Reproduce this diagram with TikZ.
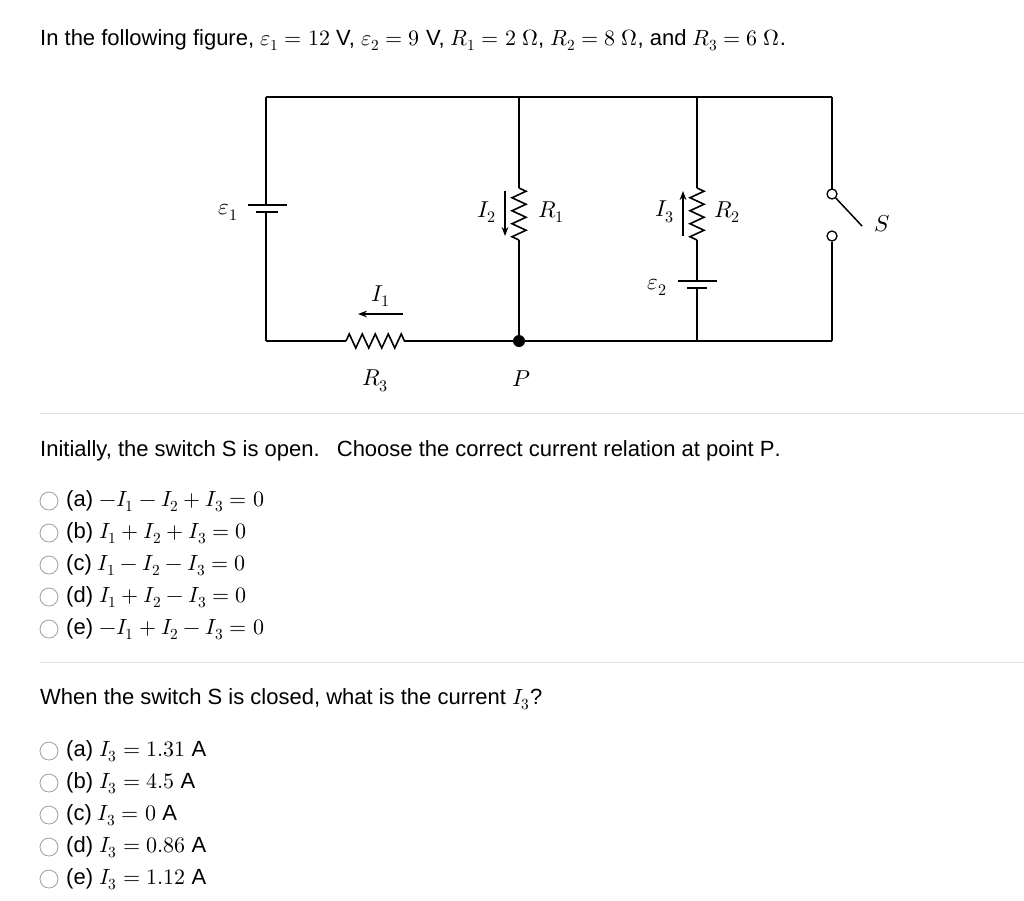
\documentclass[tikz,border=0pt]{standalone}
\usepackage{fontspec}
\setmainfont{Liberation Sans}
\usepackage{unicode-math}
\setmathfont{Latin Modern Math}
\usetikzlibrary{decorations.pathmorphing,arrows.meta}
\begin{document}
\begin{tikzpicture}[x=1pt,y=-1pt,
  wire/.style={line width=1.8pt},
  res/.style={line width=1.6pt,decorate,decoration={zigzag,segment length=13pt,amplitude=7pt}},
  txt/.style={font=\fontsize{22}{26}\selectfont,anchor=west,inner sep=0},
  lab/.style={font=\fontsize{23}{26}\selectfont,inner sep=1pt},
  radio/.style={circle,draw=gray!70,line width=0.9pt,minimum size=18pt,inner sep=0},
  sep/.style={draw=gray!25,line width=0.8pt}]
\useasboundingbox (0,0) rectangle (1024,900);
\node[txt] (title) at (40,40) {In the following figure, $\varepsilon_1=12$ V, $\varepsilon_2=9$ V, $R_1=2\ \Omega$, $R_2=8\ \Omega$, and $R_3=6\ \Omega$.};
\coordinate (tl) at (266,97); \coordinate (tr) at (832,97);
\coordinate (bl) at (266,341); \coordinate (br) at (832,341);
\coordinate (t1) at (519,97); \coordinate (t2) at (697,97);
\node[circle,fill,inner sep=0,minimum size=12pt] (P) at (519,341) {};
\coordinate (b2) at (697,341);
% left branch with battery
\draw[wire] (tl) -- (266,205) (266,212) -- (bl);
\draw[wire] (248,205) -- (287,205);
\draw[wire] (256,212) -- (278,212);
\node[lab] (e1) at (228,212) {$\varepsilon_1$};
% bottom wire with R3
\draw[wire] (bl) -- (346,341);
\draw[res] (346,341) -- (406,341);
\draw[wire] (406,341) -- (P) -- (br);
\draw[-{Stealth[length=9pt]},line width=1.3pt] (403,314) -- (358,314);
\node[lab] (i1) at (381,296) {$I_1$};
\node[lab] (r3) at (375,381) {$R_3$};
\node[lab] (p) at (521,379) {$P$};
\draw[wire] (tl) -- (tr);
% R1 branch
\draw[wire] (t1) -- (519,188);
\draw[res] (519,188) -- (519,240);
\draw[wire] (519,240) -- (P);
\draw[-{Stealth[length=9pt]},line width=1.3pt] (505,191) -- (505,236);
\node[lab] (i2) at (487,212) {$I_2$};
\node[lab] (r1) at (551,212) {$R_1$};
% R2 branch
\draw[wire] (t2) -- (697,188);
\draw[res] (697,188) -- (697,240);
\draw[wire] (697,240) -- (697,281);
\draw[wire] (678,281) -- (717,281);
\draw[wire] (687,288) -- (707,288);
\draw[wire] (697,288) -- (b2);
\draw[-{Stealth[length=9pt]},line width=1.3pt] (683,236) -- (683,191);
\node[lab] (i3) at (665,212) {$I_3$};
\node[lab] (r2) at (727,212) {$R_2$};
\node[lab] (e2) at (657,287) {$\varepsilon_2$};
% switch branch
\draw[wire] (tr) -- (832,189);
\node[circle,draw,line width=1.3pt,inner sep=0,minimum size=10pt,fill=white] (s1) at (832,194) {};
\node[circle,draw,line width=1.3pt,inner sep=0,minimum size=10pt,fill=white] (s2) at (832,236) {};
\draw[wire] (s2) -- (br);
\draw[line width=1.5pt] (s1) -- (862,226);
\node[lab] (s) at (882,224) {$S$};
\draw[sep] (40,413) -- (1024,413);
\draw[sep] (40,662) -- (1024,662);
\node[txt] (q1) at (40,451) {Initially, the switch $\mathrm{S}$ is open.\enspace\ Choose the correct current relation at point $\mathrm{P}$.};
\foreach \y/\t [count=\i] in {501/{(a) $-I_1-I_2+I_3=0$},533/{(b) $I_1+I_2+I_3=0$},565/{(c) $I_1-I_2-I_3=0$},597/{(d) $I_1+I_2-I_3=0$},629/{(e) $-I_1+I_2-I_3=0$}}{
  \node[radio] (ra\i) at (49,\y) {};
  \node[txt] (oa\i) at (66,\y) {\t};
}
\node[txt] (q2) at (40,699) {When the switch $\mathrm{S}$ is closed, what is the current $I_3$?};
\foreach \y/\t [count=\i] in {751/{(a) $I_3=1.31$ A},783/{(b) $I_3=4.5$ A},815/{(c) $I_3=0$ A},847/{(d) $I_3=0.86$ A},879/{(e) $I_3=1.12$ A}}{
  \node[radio] (rb\i) at (49,\y) {};
  \node[txt] (ob\i) at (66,\y) {\t};
}
\end{tikzpicture}
\end{document}
